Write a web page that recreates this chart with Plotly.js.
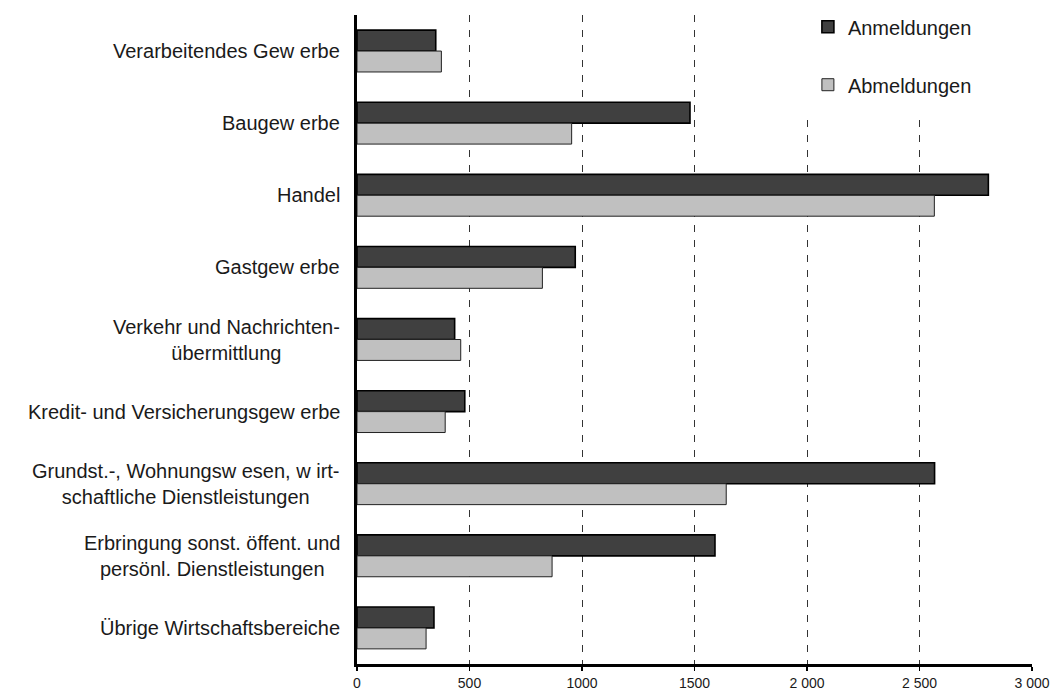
<!DOCTYPE html>
<html>
<head>
<meta charset="utf-8">
<script src="https://cdn.plot.ly/plotly-3.0.1.min.js"></script>
<style>
html,body{margin:0;padding:0;background:#fff;}
#chart{width:1061px;height:690px;}
</style>
</head>
<body>
<div id="chart"></div>
<script>
const categories = [
  'Verarbeitendes Gew erbe',
  'Baugew erbe',
  'Handel',
  'Gastgew erbe',
  'Verkehr und Nachrichten-<br>übermittlung',
  'Kredit- und Versicherungsgew erbe',
  'Grundst.-, Wohnungsw esen, w irt-<br>schaftliche Dienstleistungen',
  'Erbringung sonst. öffent. und<br>persönl. Dienstleistungen',
  'Übrige Wirtschaftsbereiche'
];
const anmeldungen = [350, 1480, 2806, 970, 434, 479, 2567, 1591, 342];
const abmeldungen = [375, 954, 2566, 824, 461, 392, 1641, 867, 307];
const seriesNames = ['Anmeldungen', 'Abmeldungen'];
const xTickVals = [0, 500, 1000, 1500, 2000, 2500, 3000];
const xTickText = ['0', '500', '1000', '1500', '2 000', '2 500', '3 000'];

const FONT = 'Liberation Sans, Arial, sans-serif';

const traces = [
  {
    type: 'bar', orientation: 'h', name: seriesNames[0], legendgroup: 'a',
    y: categories, x: anmeldungen,
    marker: {color: '#404040', line: {color: '#000000', width: 1.6}},
    hoverinfo: 'x'
  },
  {
    type: 'bar', orientation: 'h', name: seriesNames[1], legendgroup: 'b',
    y: categories, x: abmeldungen,
    marker: {color: '#c0c0c0', line: {color: '#222222', width: 1}},
    hoverinfo: 'x'
  }
];

const annotations = categories.map(c => ({
  xref: 'paper', yref: 'y', x: 0, y: c, xanchor: 'right', yanchor: 'middle',
  xshift: -15, align: 'center', showarrow: false, text: c,
  font: {family: FONT, size: 20, color: '#1a1a1a'}
}));

const layout = {
  width: 1061, height: 690,
  margin: {l: 357, r: 29, t: 15, b: 26, pad: 0, autoexpand: false},
  paper_bgcolor: '#ffffff', plot_bgcolor: '#ffffff',
  barmode: 'group', bargap: 0.42, bargroupgap: 0,
  font: {family: FONT, size: 14, color: '#1a1a1a'},
  showlegend: true,
  legend: {
    x: 0.668, y: 1.012, xanchor: 'left', yanchor: 'top',
    bgcolor: 'rgba(255,255,255,0)', borderwidth: 0,
    traceorder: 'grouped', tracegroupgap: 29,
    font: {family: FONT, size: 20, color: '#1a1a1a'}
  },
  xaxis: {
    range: [0, 3000], tickvals: xTickVals, ticktext: xTickText,
    showgrid: true, gridcolor: '#333333', gridwidth: 1, griddash: '7px,8px',
    zeroline: false, showline: true, linecolor: '#000000', linewidth: 3,
    ticks: 'outside', ticklen: 4, tickwidth: 1.5, tickcolor: '#000000',
    ticklabelstandoff: 0,
    tickfont: {family: FONT, size: 14, color: '#1a1a1a'},
    fixedrange: true
  },
  yaxis: {
    type: 'category', autorange: 'reversed',
    showticklabels: false, ticks: '', showgrid: false, zeroline: false,
    showline: true, linecolor: '#000000', linewidth: 3,
    fixedrange: true
  },
  shapes: [
    {type: 'rect', xref: 'paper', yref: 'paper', x0: 0.6, x1: 0.95, y0: 0.845, y1: 1.0,
     fillcolor: '#ffffff', line: {width: 0}, layer: 'above'}
  ],
  annotations: annotations
};

Plotly.newPlot('chart', traces, layout, {displayModeBar: false, staticPlot: true});
</script>
</body>
</html>
